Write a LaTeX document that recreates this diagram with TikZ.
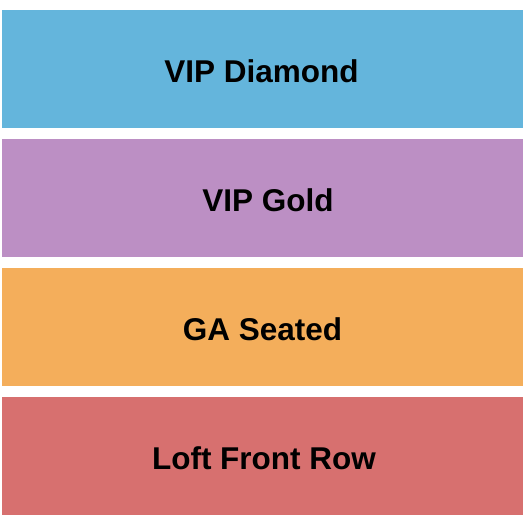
\documentclass[tikz,border=0pt]{standalone}
\usepackage{fontspec}
\setmainfont{Liberation Sans}
\usetikzlibrary{calc}

\definecolor{vipdiamond}{HTML}{64B5DC}
\definecolor{vipgold}{HTML}{BC8FC4}
\definecolor{gaseated}{HTML}{F4AE5B}
\definecolor{loftfront}{HTML}{D7706F}

\begin{document}
\begin{tikzpicture}[
  x=1pt,
  y=-1pt,
  section/.style={font=\fontsize{31.5}{36}\selectfont\bfseries, text=black, anchor=base, inner sep=0pt}
]

\useasboundingbox (0,0) rectangle (525,525);

% seating sections, top to bottom
\foreach \top/\col/\lbl/\name/\xc in {
  10/vipdiamond/VIP Diamond/diamond/261.5,
  139/vipgold/VIP Gold/gold/268,
  268/gaseated/GA Seated/seated/262.5,
  397/loftfront/Loft Front Row/loft/264}{
  \fill [\col] (2,\top) rectangle (523,\top+118);
  \node [section] (\name) at (\xc,\top+72.7) {\lbl};
}

\end{tikzpicture}
\end{document}
